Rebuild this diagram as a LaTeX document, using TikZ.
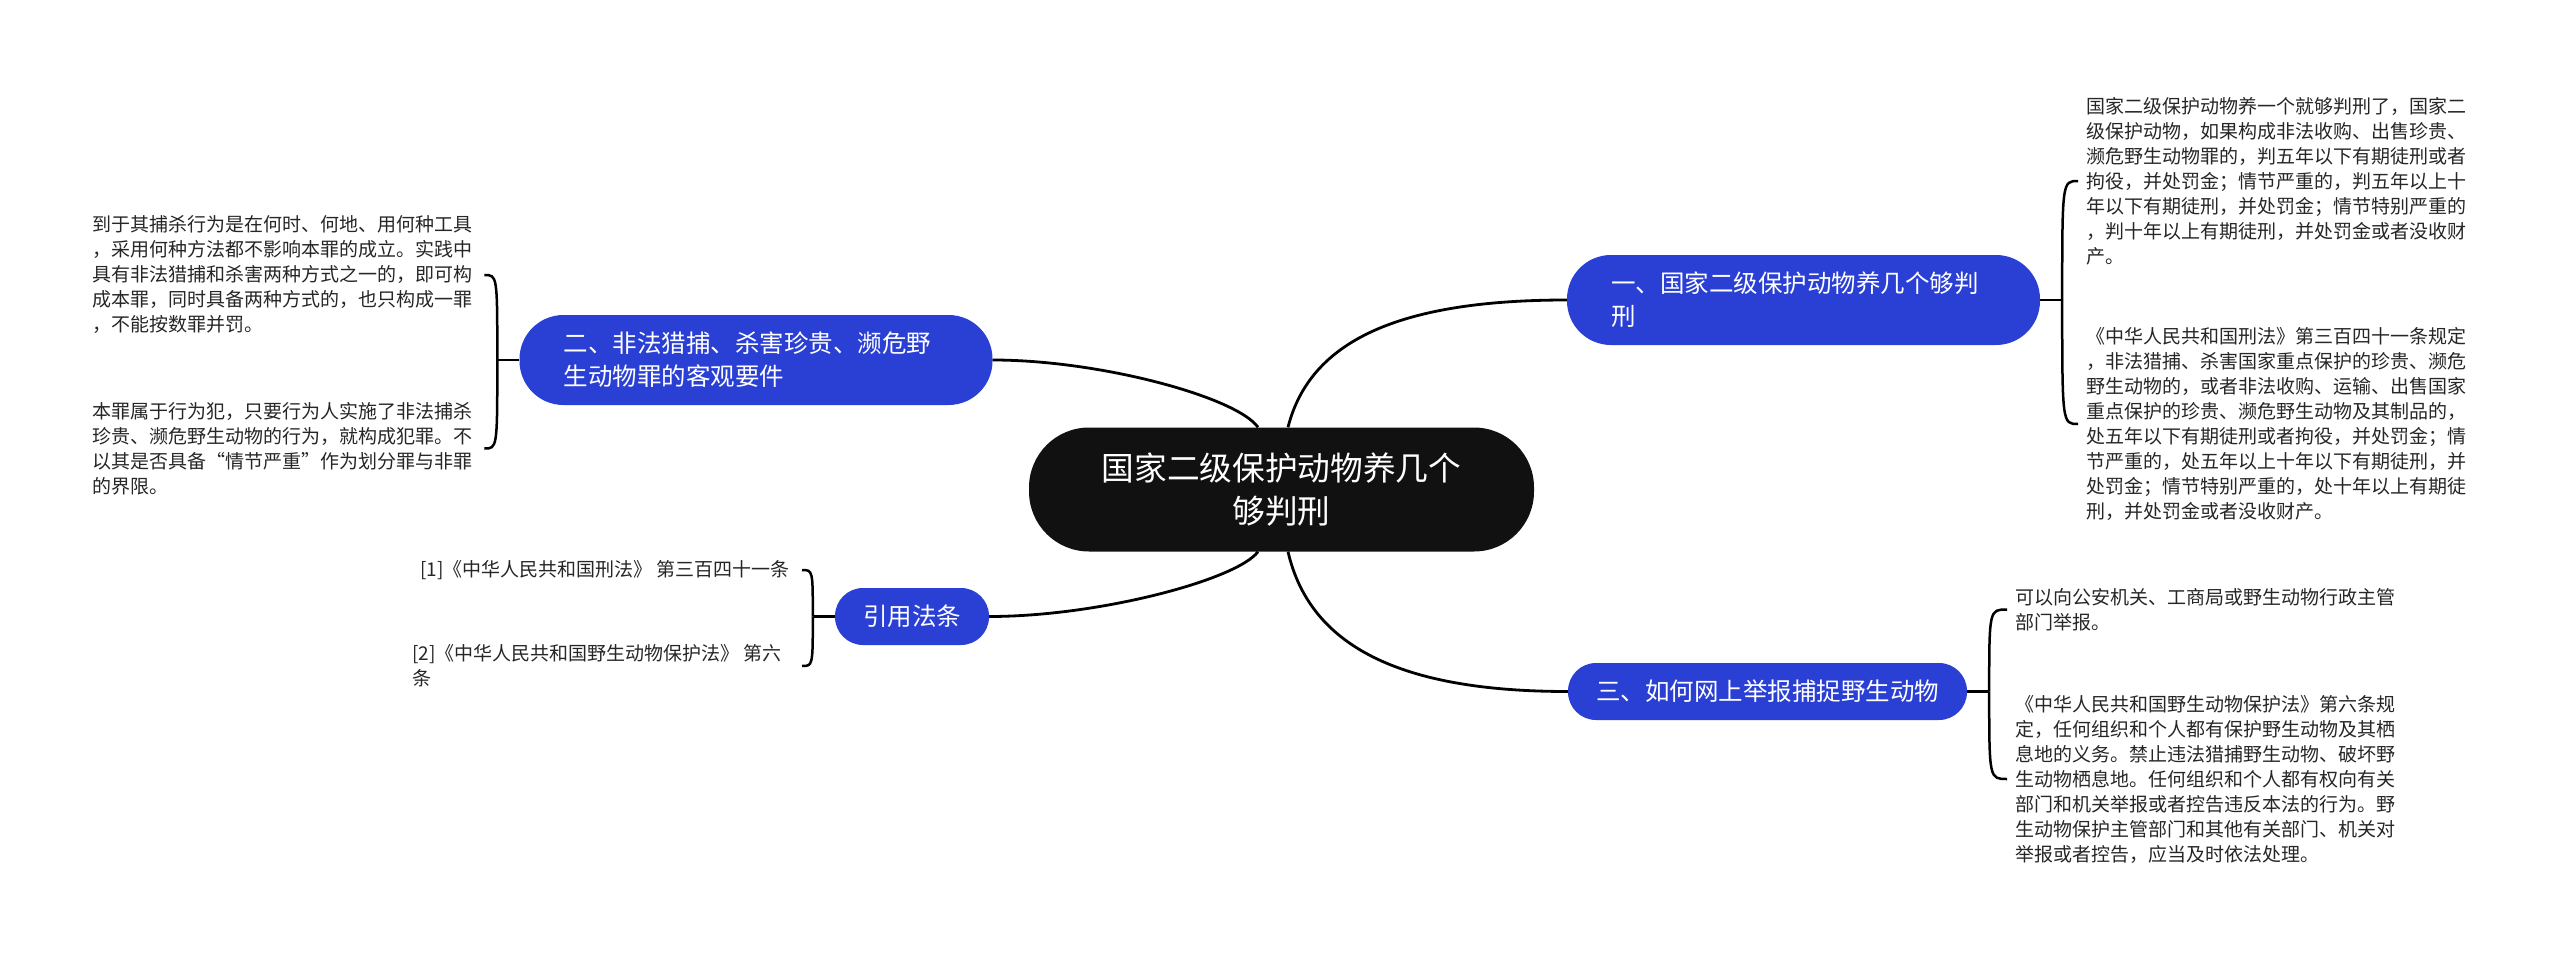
\documentclass[tikz,border=0pt]{standalone}
\usepackage{fontspec}
\setmainfont{Noto Sans CJK SC}
\usepackage{xcolor}
\usepackage{tikz}
\usetikzlibrary{positioning, calc}
\definecolor{zweigblau}{RGB}{42,63,212}
\definecolor{kernschwarz}{RGB}{17,17,17}
\definecolor{textgrau}{RGB}{38,38,38}
\tikzset{
    zentrum/.style    = {fill=kernschwarz, text=white, rounded corners=60pt, align=center,
                         minimum width=505pt, minimum height=124pt, inner sep=0pt,
                         font=\fontsize{32.7}{43}\selectfont},
    zweig/.style      = {fill=zweigblau, text=white, align=left, inner ysep=0pt,
                         font=\fontsize{24.5}{33}\selectfont},
    zweigbreit/.style = {zweig, text width=385pt, inner xsep=44pt,
                         minimum height=90pt, rounded corners=44pt},
    zweigkurz/.style  = {zweig, inner xsep=28pt, minimum height=57pt, rounded corners=28pt},
    blatt/.style      = {align=left, inner sep=0pt, text=textgrau,
                         font=\fontsize{19}{25}\selectfont},
    link/.style       = {line width=2.8pt},
    klammer/.style    = {line width=2.5pt}
}
\begin{document}
\begin{tikzpicture}[x=1pt, y=1pt]
        \useasboundingbox (0,0) rectangle (2560,-955);

        \node[zentrum] (kern) at (1281.5,-489.5) {国家二级保护动物养几个\\够判刑};

        \node[zweigbreit] (z1) at (1803.5,-300) {一、国家二级保护动物养几个够判\\刑};
        \node[zweigbreit] (z2) at (756,-360) {二、非法猎捕、杀害珍贵、濒危野\\生动物罪的客观要件};
        \node[zweigkurz] (z3) at (1767.5,-691.5) {三、如何网上举报捕捉野生动物};
        \node[zweigkurz] (quellen) at (912,-616.5) {引用法条};

        % rechte Seite
        \node[blatt, anchor=west] (b11) at (2086,-181)
            {国家二级保护动物养一个就够判刑了，国家二\\
             级保护动物，如果构成非法收购、出售珍贵、\\
             濒危野生动物罪的，判五年以下有期徒刑或者\\
             拘役，并处罚金；情节严重的，判五年以上十\\
             年以下有期徒刑，并处罚金；情节特别严重的\\
             ，判十年以上有期徒刑，并处罚金或者没收财\\
             产。};
        \node[blatt, anchor=west] (b12) at (2086,-424)
            {《中华人民共和国刑法》第三百四十一条规定\\
             ，非法猎捕、杀害国家重点保护的珍贵、濒危\\
             野生动物的，或者非法收购、运输、出售国家\\
             重点保护的珍贵、濒危野生动物及其制品的，\\
             处五年以下有期徒刑或者拘役，并处罚金；情\\
             节严重的，处五年以上十年以下有期徒刑，并\\
             处罚金；情节特别严重的，处十年以上有期徒\\
             刑，并处罚金或者没收财产。};
        \node[blatt, anchor=west] (b31) at (2015,-609.5)
            {可以向公安机关、工商局或野生动物行政主管\\
             部门举报。};
        \node[blatt, anchor=west] (b32) at (2015,-779)
            {《中华人民共和国野生动物保护法》第六条规\\
             定，任何组织和个人都有保护野生动物及其栖\\
             息地的义务。禁止违法猎捕野生动物、破坏野\\
             生动物栖息地。任何组织和个人都有权向有关\\
             部门和机关举报或者控告违反本法的行为。野\\
             生动物保护主管部门和其他有关部门、机关对\\
             举报或者控告，应当及时依法处理。};

        % linke Seite
        \node[blatt, anchor=west] (b21) at (92,-275)
            {到于其捕杀行为是在何时、何地、用何种工具\\
             ，采用何种方法都不影响本罪的成立。实践中\\
             具有非法猎捕和杀害两种方式之一的，即可构\\
             成本罪，同时具备两种方式的，也只构成一罪\\
             ，不能按数罪并罚。};
        \node[blatt, anchor=west] (b22) at (92,-448.5)
            {本罪属于行为犯，只要行为人实施了非法捕杀\\
             珍贵、濒危野生动物的行为，就构成犯罪。不\\
             以其是否具备“情节严重”作为划分罪与非罪\\
             的界限。};
        \node[blatt, anchor=east] (q1) at (790,-570) {[1]《中华人民共和国刑法》 第三百四十一条};
        \node[blatt, anchor=east] (q2) at (782,-666) {[2]《中华人民共和国野生动物保护法》 第六\\条};

        \draw[link] ([xshift=6.5pt]kern.north) .. controls +(22,87) and +(-167,0) .. (z1.west);
        \draw[link] ([xshift=6.5pt]kern.south) .. controls +(22,-95) and +(-167,0) .. (z3.west);
        \draw[link] ([xshift=-23.5pt]kern.north) .. controls +(-21,30) and +(108,0) .. (z2.east);
        \draw[link] ([xshift=-23.5pt]kern.south) .. controls +(-21,-28) and +(110,0) .. (quellen.east);

        \draw[klammer] (z1.east) -- ++(22,0) coordinate (g1);
        \draw[klammer] (g1) .. controls (g1 |- b11.west) .. ([xshift=-8pt]b11.west);
        \draw[klammer] (g1) .. controls (g1 |- b12.west) .. ([xshift=-8pt]b12.west);

        \draw[klammer] (z3.east) -- ++(22,0) coordinate (g3);
        \draw[klammer] (g3) .. controls (g3 |- b31.west) .. ([xshift=-8pt]b31.west);
        \draw[klammer] (g3) .. controls (g3 |- b32.west) .. ([xshift=-8pt]b32.west);

        \draw[klammer] (z2.west) -- ++(-22,0) coordinate (g2);
        \draw[klammer] (g2) .. controls (g2 |- b21.east) .. ([xshift=12pt]b21.east);
        \draw[klammer] (g2) .. controls (g2 |- b22.east) .. ([xshift=12pt]b22.east);

        \draw[klammer] (quellen.west) -- ++(-22,0) coordinate (g4);
        \draw[klammer] (g4) .. controls (g4 |- q1.east) .. ([xshift=12pt]q1.east);
        \draw[klammer] (g4) .. controls (g4 |- q2.east) .. ([xshift=20pt]q2.east);
    \end{tikzpicture}
\end{document}
